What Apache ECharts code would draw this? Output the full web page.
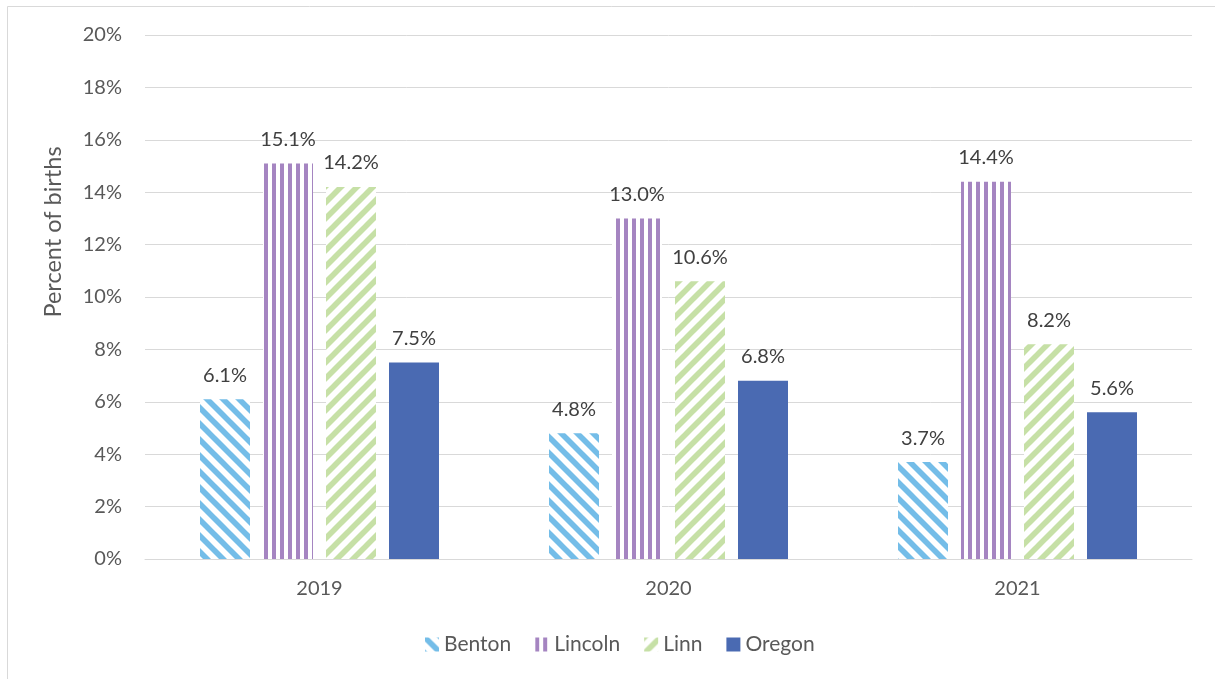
<!DOCTYPE html>
<html>
<head>
<meta charset="utf-8">
<script src="https://cdn.jsdelivr.net/npm/echarts@6/dist/echarts.min.js"></script>
<style>
  html, body { margin: 0; padding: 0; background: #ffffff; }
  #chart { width: 1215px; height: 679px; }
</style>
</head>
<body>
<div id="chart"></div>
<script>
// Years on the category axis
const years = ['2019', '2020', '2021'];
// Percent of births by county / state
const benton = [6.1, 4.8, 3.7];
const lincoln = [15.1, 13.0, 14.4];
const linn = [14.2, 10.6, 8.2];
const oregon = [7.5, 6.8, 5.6];
// Value-axis ticks
const yTicks = { min: 0, max: 20, interval: 2 };

const FONT = 'Lato';

// Hatched fills drawn onto small tiles
function diagonalTile(color, down) {
  const s = 16;
  const c = document.createElement('canvas');
  c.width = s; c.height = s;
  const g = c.getContext('2d');
  g.fillStyle = '#ffffff';
  g.fillRect(0, 0, s, s);
  g.strokeStyle = color;
  g.lineWidth = 5.6;
  g.lineCap = 'butt';
  for (let k = -1; k <= 1; k++) {
    g.beginPath();
    if (down) {
      g.moveTo(k * s - 2, -2);
      g.lineTo(k * s + s + 2, s + 2);
    } else {
      g.moveTo(k * s - 2, s + 2);
      g.lineTo(k * s + s + 2, -2);
    }
    g.stroke();
  }
  return { image: c, repeat: 'repeat' };
}
function verticalTile(color) {
  const c = document.createElement('canvas');
  c.width = 8; c.height = 8;
  const g = c.getContext('2d');
  g.fillStyle = '#ffffff';
  g.fillRect(0, 0, 8, 8);
  g.fillStyle = color;
  g.fillRect(0, 0, 4, 8);
  return { image: c, repeat: 'repeat' };
}

const fills = {
  Benton: diagonalTile('#74BDE8', true),
  Lincoln: verticalTile('#A585C1'),
  Linn: diagonalTile('#C6E0A6', false),
  Oregon: '#4A6AB2'
};

function bar(name, data) {
  return {
    name: name,
    type: 'bar',
    data: data,
    barWidth: 50,
    barGap: '26%',
    itemStyle: { color: fills[name] },
    label: {
      show: true,
      position: 'top',
      distance: 14,
      fontFamily: FONT,
      fontSize: 20,
      color: '#404040',
      formatter: p => p.value.toFixed(1) + '%'
    }
  };
}

const chart = echarts.init(document.getElementById('chart'), null, { renderer: 'canvas' });
chart.setOption({
  backgroundColor: '#ffffff',
  animation: false,
  textStyle: { fontFamily: FONT },
  graphic: [{
    type: 'rect',
    shape: { x: 7.5, y: 6.5, width: 1400, height: 900 },
    style: { fill: 'none', stroke: '#D9D9D9', lineWidth: 1 },
    silent: true,
    z: -10
  }],
  grid: { left: 145, right: 23, top: 35, bottom: 120, containLabel: false },
  legend: {
    left: 420,
    top: 629,
    itemWidth: 14,
    itemHeight: 14,
    itemGap: 24,
    icon: 'rect',
    textStyle: { fontFamily: FONT, fontSize: 21, color: '#595959' },
    data: ['Benton', 'Lincoln', 'Linn', 'Oregon']
  },
  xAxis: {
    type: 'category',
    data: years,
    axisLine: { lineStyle: { color: '#D9D9D9', width: 1 } },
    axisTick: { show: false },
    axisLabel: { margin: 20, fontFamily: FONT, fontSize: 20, color: '#595959' }
  },
  yAxis: {
    type: 'value',
    min: yTicks.min,
    max: yTicks.max,
    interval: yTicks.interval,
    name: 'Percent of births',
    nameLocation: 'middle',
    nameGap: 80,
    nameTextStyle: {
      fontFamily: FONT,
      fontSize: 23.5,
      color: '#595959',
      padding: [0, 0, 0, 130]
    },
    axisLine: { show: false },
    axisTick: { show: false },
    splitLine: { lineStyle: { color: '#D9D9D9', width: 1 } },
    axisLabel: {
      margin: 23,
      fontFamily: FONT,
      fontSize: 20,
      color: '#595959',
      formatter: v => v + '%'
    }
  },
  series: [
    bar('Benton', benton),
    bar('Lincoln', lincoln),
    bar('Linn', linn),
    bar('Oregon', oregon)
  ]
});
</script>
</body>
</html>
